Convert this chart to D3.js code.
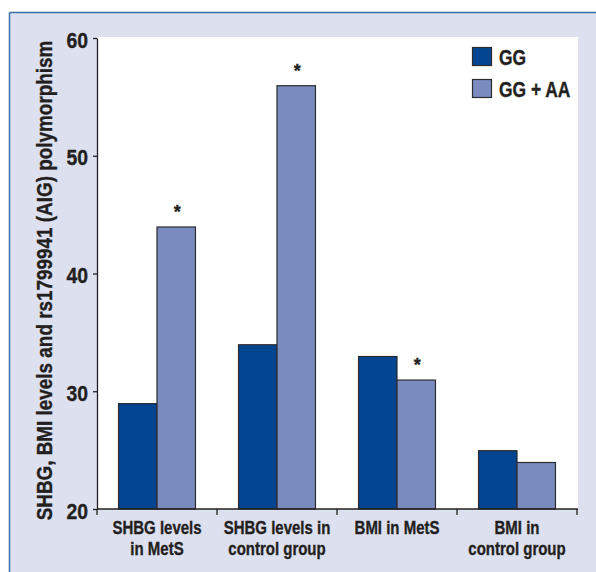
<!DOCTYPE html>
<html>
<head>
<meta charset="utf-8">
<script src="https://cdn.jsdelivr.net/npm/d3@7"></script>
<style>
  html, body { margin: 0; padding: 0; background: #ffffff; }
  svg { display: block; }
  text { font-family: "Liberation Sans", Arial, Helvetica, sans-serif; font-weight: bold; fill: #231f20; stroke: #231f20; stroke-width: 0.35px; }
</style>
</head>
<body>
<svg id="chart" width="596" height="572"></svg>
<script>
const categories = [["SHBG levels", "in MetS"], ["SHBG levels in", "control group"], ["BMI in MetS"], ["BMI in", "control group"]];
const seriesNames = ["GG", "GG + AA"];
const ggValues = [29, 34, 33, 25];
const ggAaValues = [44, 56, 31, 24];
const starsOnAa = [true, true, true, false];
const yTicks = [20, 30, 40, 50, 60];
const yTitle = "SHBG, BMI levels and rs1799941 (AIG) polymorphism";

const colors = ["#034591", "#7a8bbf"];
const ink = "#231f20";
const svg = d3.select("#chart");
const W = 596, H = 572;

// helper: condensed text placed at (x,y)
function ctext(parent, x, y, str, size, squeeze, anchor, rot) {
  const g = parent.append("g").attr("transform", `translate(${x},${y})` + (rot ? ` rotate(${rot})` : "") + ` scale(${squeeze},1)`);
  return g.append("text").attr("x", 0).attr("y", 0).attr("text-anchor", anchor || "start")
    .style("font-size", size + "px").text(str);
}

// panel
svg.append("rect").attr("x", 10).attr("y", 13).attr("width", W - 10).attr("height", H - 13).attr("fill", "#dde0ef");
svg.append("line").attr("x1", 9.5).attr("x2", W).attr("y1", 12.5).attr("y2", 12.5).attr("stroke", "#3b6fa8").attr("stroke-width", 1.5);
svg.append("line").attr("x1", 9.5).attr("x2", 9.5).attr("y1", 12.5).attr("y2", H).attr("stroke", "#3b6fa8").attr("stroke-width", 1.5);

const plot = { left: 97, top: 38, right: 578, bottom: 509 };
svg.append("rect").attr("x", plot.left).attr("y", 37).attr("width", plot.right - plot.left).attr("height", plot.bottom - 37).attr("fill", "#ffffff");

const x0 = d3.scaleBand().domain(d3.range(categories.length)).range([plot.left, plot.right - 1]).paddingInner(0).paddingOuter(0);
const x1 = d3.scaleBand().domain([0, 1]).range([0, x0.bandwidth()]).paddingOuter(0.56).paddingInner(0);
const y = d3.scaleLinear().domain([20, 60]).range([plot.bottom, plot.top]);

// bars
const g = svg.append("g");
categories.forEach((c, i) => {
  [ggValues[i], ggAaValues[i]].forEach((v, j) => {
    g.append("rect")
      .attr("x", x0(i) + x1(j))
      .attr("y", y(v) + 0.6)
      .attr("width", x1.bandwidth())
      .attr("height", y(20) - y(v) - 0.6)
      .attr("fill", colors[j])
      .attr("stroke", "#2b2b2e")
      .attr("stroke-width", 1.2);
  });
  if (starsOnAa[i]) {
    svg.append("text")
      .attr("x", x0(i) + x1(1) + x1.bandwidth() / 2 + 1)
      .attr("y", y(ggAaValues[i]) - 8)
      .attr("text-anchor", "middle")
      .style("font-size", "18px")
      .text("*");
  }
});

// y axis
const yAxis = d3.axisLeft(y).tickValues(yTicks).tickSize(4).tickSizeOuter(0).tickPadding(5);
const ya = svg.append("g").attr("transform", `translate(${plot.left},0)`).call(yAxis);
ya.select(".domain").attr("stroke", ink).attr("stroke-width", 1.3);
ya.selectAll(".tick line").attr("stroke", ink).attr("stroke-width", 1.3);
ya.selectAll(".tick text")
  .style("font-size", "21.5px").attr("fill", ink)
  .attr("x", 0).attr("dy", "0.38em")
  .attr("transform", "translate(-9,1) scale(0.9,1)");

// x axis
const xa = svg.append("g").attr("transform", `translate(0,${plot.bottom})`);
xa.append("line").attr("x1", plot.left).attr("x2", plot.right).attr("y1", 0).attr("y2", 0).attr("stroke", ink).attr("stroke-width", 1.3);
const bounds = d3.range(categories.length + 1).map(i => i < categories.length ? x0(i) : x0(i - 1) + x0.bandwidth());
bounds.forEach(b => {
  xa.append("line").attr("x1", b).attr("x2", b).attr("y1", 0).attr("y2", 6).attr("stroke", ink).attr("stroke-width", 1.3);
});
categories.forEach((c, i) => {
  c.forEach((line, k) => {
    ctext(xa, x0(i) + x0.bandwidth() / 2, 25 + k * 21, line, 18.5, 0.81, "middle");
  });
});

// y title
ctext(svg, 52, (plot.top + plot.bottom) / 2 + 7, yTitle, 22.5, 0.84, "middle", -90);

// legend
const leg = svg.append("g");
seriesNames.forEach((s, j) => {
  leg.append("rect").attr("x", 472.5).attr("y", 47.5 + j * 32).attr("width", 19).attr("height", 18)
    .attr("fill", colors[j]).attr("stroke", "#2b2b2e").attr("stroke-width", 1.2);
  ctext(leg, 499, 65 + j * 32, s, 21.5, 0.81, "start");
});
</script>
</body>
</html>
